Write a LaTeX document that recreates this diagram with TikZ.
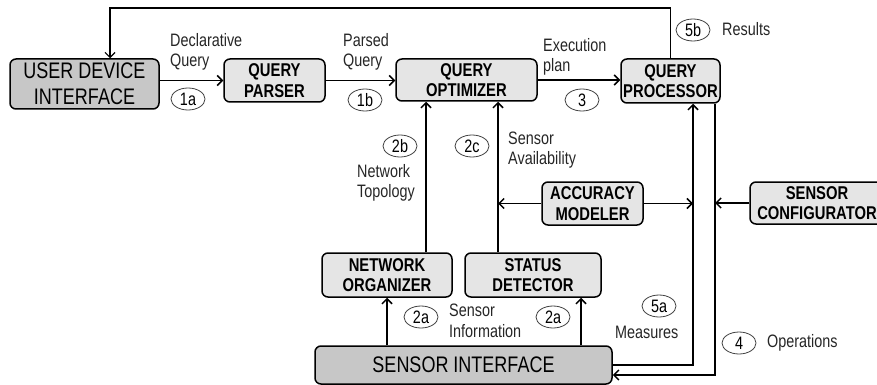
\documentclass[tikz,border=0pt]{standalone}
\usepackage{fontspec}
\setmainfont[FakeStretch=0.8]{Liberation Sans}
\usetikzlibrary{arrows.meta,shapes.geometric}
\definecolor{boxlight}{gray}{0.9}
\definecolor{boxdark}{gray}{0.78}
\begin{document}
\begin{tikzpicture}[x=1pt,y=-1pt,
  box/.style={draw,line width=1.5pt,rounded corners=6pt,fill=boxlight,inner sep=0pt,align=center,font=\fontsize{18.5}{20.5}\selectfont\bfseries},
  bigbox/.style={box,fill=boxdark,font=\fontsize{22.5}{26}\selectfont},
  conn/.style={line width=1.5pt,-{Straight Barb[length=5pt,width=10pt]}},
  fb/.style={line width=1.2pt,-{Straight Barb[length=5pt,width=10pt]}},
  tag/.style={draw=black!75,line width=0.8pt,ellipse,minimum width=34pt,minimum height=22pt,inner sep=0pt,font=\fontsize{18}{20}\selectfont},
  lbl/.style={anchor=west,align=left,inner sep=0pt,text=black!85,font=\fontsize{18}{20.5}\selectfont}]
\useasboundingbox (0,0) rectangle (877,385);

% boxes
\node[bigbox,minimum width=149pt,minimum height=50pt] (udi) at (84.5,84) {USER DEVICE\\INTERFACE};
\node[box,minimum width=101pt,minimum height=43pt] (qp) at (274.5,80.5) {QUERY\\PARSER};
\node[box,minimum width=141pt,minimum height=42pt] (qo) at (466.5,80) {QUERY\\OPTIMIZER};
\node[box,minimum width=99pt,minimum height=44pt] (qpr) at (670.5,81) {QUERY\\PROCESSOR};
\node[box,minimum width=101pt,minimum height=43pt] (am) at (592.5,203.5) {ACCURACY\\MODELER};
\node[box,minimum width=134pt,minimum height=42pt] (sc) at (817,203) {SENSOR\\CONFIGURATOR};
\node[box,minimum width=130pt,minimum height=44pt] (no) at (387,275) {NETWORK\\ORGANIZER};
\node[box,minimum width=136pt,minimum height=44pt] (sd) at (533,275) {STATUS\\DETECTOR};
\node[bigbox,minimum width=297pt,minimum height=38pt] (si) at (463.5,365) {SENSOR INTERFACE};

% helper coordinates
\coordinate (fbtop) at (110,8);
\coordinate (xa) at (426,0);
\coordinate (xb) at (498,0);
\coordinate (xc) at (693,0);
\coordinate (xd) at (715,0);
\coordinate (xe) at (581,0);
\coordinate (yb) at (0,375);

% connectors
\draw[fb] (qpr.north) |- (fbtop) -- (udi.north -| fbtop);
\draw[conn] (udi.east |- qp.west) -- (qp.west);
\draw[conn] (qp.east) -- (qo.west |- qp.east);
\draw[conn] (qo.east) -- (qpr.west |- qo.east);
\draw[conn] (no.north -| xa) -- (qo.south -| xa);
\draw[conn] (sd.north -| xb) -- (qo.south -| xb);
\draw[conn] (am.west) -- (am.west -| xb);
\draw[conn] (am.east) -- (am.east -| xc);
\draw[conn] (sc.west) -- (sc.west -| xd);
\draw[conn] (si.north -| no.south) -- (no.south);
\draw[conn] (si.north -| xe) -- (sd.south -| xe);
\draw[conn] (si.east) -| (qpr.south -| xc);
\draw[conn] (qpr.south -| xd) |- (si.east |- yb);

% labels
\node[lbl] (l1) at (170,52) {Declarative\\Query};
\node[tag] (t1a) at (188,99) {1a};
\node[lbl] (l2) at (343,52) {Parsed\\Query};
\node[tag] (t1b) at (365,100) {1b};
\node[lbl] (l3) at (543,57) {Execution\\plan};
\node[tag] (t3) at (582,100) {3};
\node[tag] (t5b) at (693,30) {5b};
\node[lbl] (l5b) at (722,29) {Results};
\node[tag] (t2b) at (400,146) {2b};
\node[lbl] (l2b) at (357,183) {Network\\Topology};
\node[tag] (t2c) at (472,146) {2c};
\node[lbl] (l2c) at (508,150) {Sensor\\Availability};
\node[tag] (t2a1) at (421,317) {2a};
\node[lbl] (l2a) at (449,321) {Sensor\\Information};
\node[tag] (t2a2) at (553,317) {2a};
\node[tag] (t5a) at (659,306) {5a};
\node[lbl] (l5a) at (615,332) {Measures};
\node[tag] (t4) at (739,343) {4};
\node[lbl] (l4) at (767,343) {Operations};
\end{tikzpicture}
\end{document}
